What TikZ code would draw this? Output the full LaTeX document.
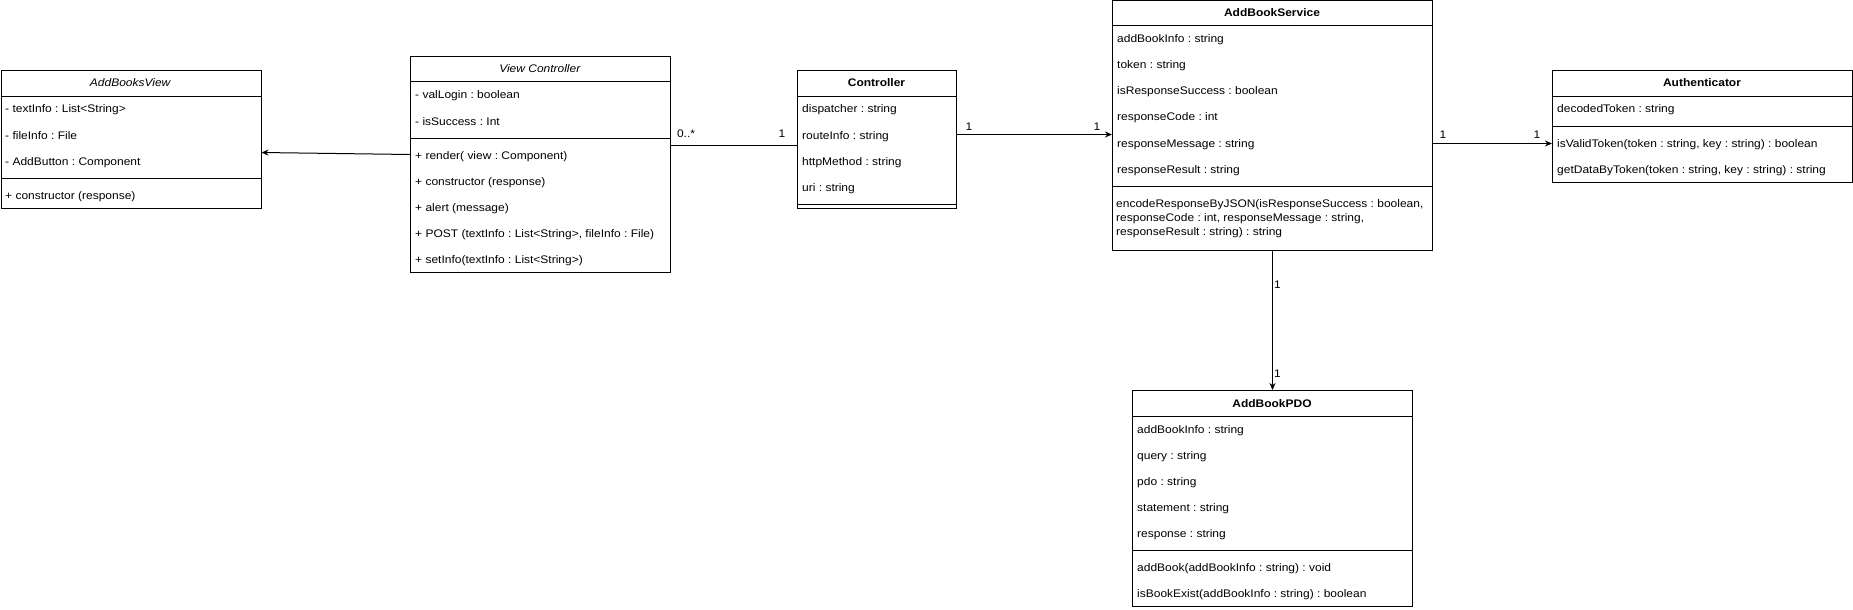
\documentclass[tikz,border=0pt]{standalone}
\usepackage{fontspec}
\setmainfont{Liberation Sans}[FakeStretch=1.09]
\frenchspacing
\usetikzlibrary{arrows.meta,positioning}

\begin{document}
\begin{tikzpicture}[
                x=1pt, y=1pt,
                every node/.style={font=\fontsize{11}{14}\selectfont},
                cls/.style={draw, line width=1pt, anchor=north west, inner sep=0pt},
                ttl/.style={inner sep=0pt, text height=8pt, text depth=0pt},
                fld/.style={anchor=west, inner sep=0pt, text height=8pt, text depth=0pt},
                mult/.style={inner sep=0pt, text height=8pt, text depth=0pt},
                link/.style={line width=1pt},
                arr/.style={line width=1pt, -{Stealth[length=7pt,width=6pt]}}
            ]

            \useasboundingbox (0,0) rectangle (1853,-610);

            \node[cls, minimum width=260pt, minimum height=138pt] (abv) at (0.5,-70) {};
            \draw[link] ([yshift=-26pt]abv.north west) -- ([yshift=-26pt]abv.north east);
            \draw[link] ([yshift=-108pt]abv.north west) -- ([yshift=-108pt]abv.north east);
            \node[ttl] (abv-t) at (130.5,-83) {\textit{AddBooksView}};
            \node[fld] (abv-1) at (5,-109) {- textInfo : List<String>};
            \node[fld] (abv-2) at (5,-135) {- fileInfo : File};
            \node[fld] (abv-3) at (5,-161) {- AddButton : Component};
            \node[fld] (abv-4) at (5,-195) {+ constructor (response)};

            \node[cls, minimum width=260pt, minimum height=216pt] (vc) at (410,-56) {};
            \draw[link] ([yshift=-26pt]vc.north west) -- ([yshift=-26pt]vc.north east);
            \draw[link] ([yshift=-82pt]vc.north west) -- ([yshift=-82pt]vc.north east);
            \node[ttl] (vc-t) at (540,-69) {\textit{View Controller}};
            \node[fld] (vc-1) at (415,-95) {- valLogin : boolean};
            \node[fld] (vc-2) at (415,-121) {- isSuccess : Int};
            \node[fld] (vc-3) at (415,-155) {+ render( view : Component)};
            \node[fld] (vc-4) at (415,-181) {+ constructor (response)};
            \node[fld] (vc-5) at (415,-207) {+ alert (message)};
            \node[fld] (vc-6) at (415,-233) {+ POST (textInfo : List<String>, fileInfo : File)};
            \node[fld] (vc-7) at (415,-259) {+ setInfo(textInfo : List<String>)};

            \node[cls, minimum width=159pt, minimum height=138pt] (ctrl) at (797,-70) {};
            \draw[link] ([yshift=-26pt]ctrl.north west) -- ([yshift=-26pt]ctrl.north east);
            \draw[link] ([yshift=-134pt]ctrl.north west) -- ([yshift=-134pt]ctrl.north east);
            \node[ttl] (ctrl-t) at (876.5,-83) {\textbf{Controller}};
            \node[fld] (ctrl-1) at (802,-109) {dispatcher : string};
            \node[fld] (ctrl-2) at (802,-135) {routeInfo : string};
            \node[fld] (ctrl-3) at (802,-161) {httpMethod : string};
            \node[fld] (ctrl-4) at (802,-187) {uri : string};

            \node[cls, minimum width=320pt, minimum height=249.5pt] (abs) at (1112,-0.5) {};
            \draw[link] ([yshift=-25.5pt]abs.north west) -- ([yshift=-25.5pt]abs.north east);
            \draw[link] ([yshift=-185.5pt]abs.north west) -- ([yshift=-185.5pt]abs.north east);
            \node[ttl] (abs-t) at (1272,-13) {\textbf{AddBookService}};
            \node[fld] (abs-1) at (1117,-39) {addBookInfo : string};
            \node[fld] (abs-2) at (1117,-65) {token : string};
            \node[fld] (abs-3) at (1117,-91) {isResponseSuccess : boolean};
            \node[fld] (abs-4) at (1117,-117) {responseCode : int};
            \node[fld] (abs-5) at (1117,-143) {responseMessage : string};
            \node[fld] (abs-6) at (1117,-169) {responseResult : string};
            \node[anchor=north west, align=left, inner sep=0pt] (abs-7) at (1116,-199)
                {encodeResponseByJSON(isResponseSuccess : boolean,\\
                 responseCode : int, responseMessage : string,\\
                 responseResult : string) : string};

            \node[cls, minimum width=300pt, minimum height=112pt] (auth) at (1552,-70) {};
            \draw[link] ([yshift=-26pt]auth.north west) -- ([yshift=-26pt]auth.north east);
            \draw[link] ([yshift=-56pt]auth.north west) -- ([yshift=-56pt]auth.north east);
            \node[ttl] (auth-t) at (1702,-83) {\textbf{Authenticator}};
            \node[fld] (auth-1) at (1557,-109) {decodedToken : string};
            \node[fld] (auth-2) at (1557,-143) {isValidToken(token : string, key : string) : boolean};
            \node[fld] (auth-3) at (1557,-169) {getDataByToken(token : string, key : string) : string};

            \node[cls, minimum width=280pt, minimum height=216pt] (pdo) at (1132,-390) {};
            \draw[link] ([yshift=-26pt]pdo.north west) -- ([yshift=-26pt]pdo.north east);
            \draw[link] ([yshift=-160pt]pdo.north west) -- ([yshift=-160pt]pdo.north east);
            \node[ttl] (pdo-t) at (1272,-403) {\textbf{AddBookPDO}};
            \node[fld] (pdo-1) at (1137,-429) {addBookInfo : string};
            \node[fld] (pdo-2) at (1137,-455) {query : string};
            \node[fld] (pdo-3) at (1137,-481) {pdo : string};
            \node[fld] (pdo-4) at (1137,-507) {statement : string};
            \node[fld] (pdo-5) at (1137,-533) {response : string};
            \node[fld] (pdo-6) at (1137,-567) {addBook(addBookInfo : string) : void};
            \node[fld] (pdo-7) at (1137,-593) {isBookExist(addBookInfo : string) : boolean};

            \draw[arr] ([yshift=10pt]vc.west) -- ([yshift=-13pt]abv.east);
            \draw[link] ([yshift=19pt]vc.east) --
                node[mult, pos=0, xshift=15pt, yshift=12pt] (m1) {0..*}
                node[mult, pos=1, xshift=-15pt, yshift=12pt] (m2) {1}
                ([yshift=-6pt]ctrl.west);
            \draw[arr] ([yshift=5pt]ctrl.east) --
                node[mult, pos=0, xshift=12pt, yshift=8pt] (m3) {1}
                node[mult, pos=1, xshift=-15pt, yshift=8pt] (m4) {1}
                ([yshift=-8.75pt]abs.west);
            \draw[arr] ([yshift=-17.75pt]abs.east) --
                node[mult, pos=0, xshift=10pt, yshift=9pt] (m5) {1}
                node[mult, pos=1, xshift=-15pt, yshift=9pt] (m6) {1}
                ([yshift=-17pt]auth.west);
            \draw[arr] (abs.south) --
                node[mult, pos=0, xshift=5pt, yshift=-33pt] (m7) {1}
                node[mult, pos=1, xshift=5pt, yshift=17pt] (m8) {1}
                (pdo.north);

        \end{tikzpicture}
\end{document}
